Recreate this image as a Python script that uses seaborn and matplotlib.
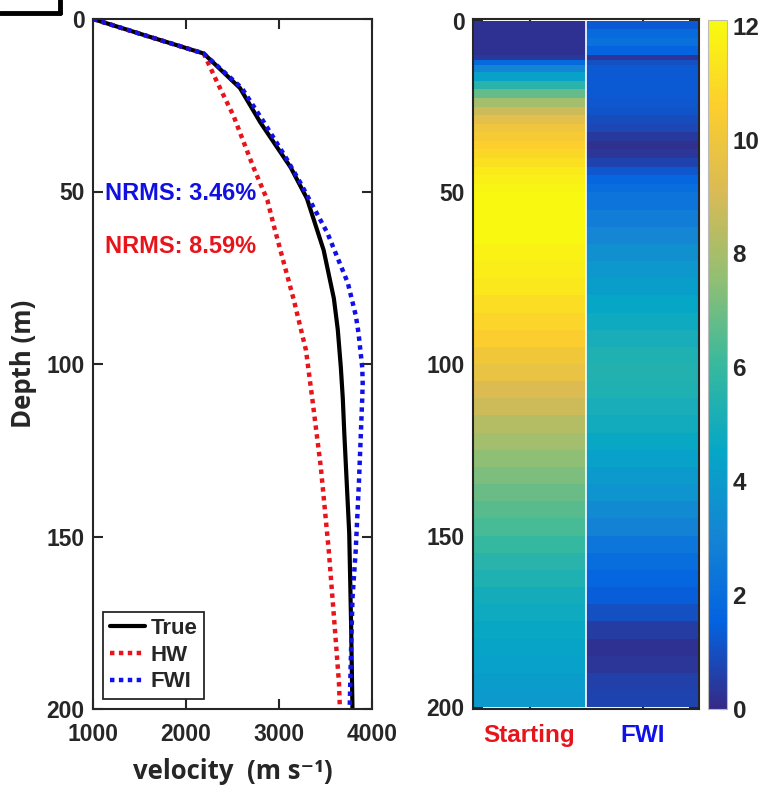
import numpy as np
import pandas as pd
import seaborn as sns
import matplotlib.pyplot as plt
from matplotlib.colors import LinearSegmentedColormap
from matplotlib.lines import Line2D

# ---------- data: velocity profiles ----------
true_depth = [0, 5, 10, 20, 30, 43, 52, 67, 81, 90, 101, 110, 120, 149, 175, 200]
true_vel = [1000, 1590, 2190, 2580, 2800, 3125, 3300, 3480, 3590, 3632, 3665, 3686, 3702, 3755, 3775, 3790]

hw_depth = [0, 5, 10, 18.6, 28, 43, 52.5, 60, 67, 81.5, 96, 110.5, 130, 154, 173, 192.5, 200]
hw_vel = [1000, 1590, 2190, 2340, 2510, 2725, 2875, 2945, 3015, 3160, 3290, 3360, 3450, 3535, 3590, 3645, 3655]

fwi_depth = [0, 5, 10, 20, 30, 40, 47.5, 62, 76.5, 86, 91, 96, 101, 105.5, 110, 134, 154, 168, 188, 200]
fwi_vel = [1000, 1590, 2190, 2600, 2840, 3070, 3230, 3520, 3740, 3826, 3855, 3875, 3895, 3900, 3895,
           3860, 3825, 3790, 3770, 3760]

nrms_fwi = "NRMS: 3.46%"
nrms_hw = "NRMS: 8.59%"

# ---------- data: error bands (%) ----------
band_edges = [0, 2.5, 5, 7.5, 10, 11.5, 13, 15, 17.5, 20, 22.5, 25, 27.5, 30, 32.5, 35, 37.5,
              40, 42.5, 45, 47.5, 50, 55, 60, 65, 70, 75, 80, 85, 90, 95, 100, 105, 110, 115,
              120, 125, 130, 135, 140, 145, 150, 155, 160, 165, 170, 175, 180, 185, 190, 195, 200]
err_starting = [0.2, 0.2, 0.2, 0.2, 0.4, 1.8, 3.0, 4.3, 5.6, 6.8, 7.9, 8.8, 9.5, 10.0, 10.3,
                10.6, 10.9, 11.2, 11.5, 11.7, 11.9,
                12.0, 12.0, 12.0, 11.8, 11.6, 11.4, 11.1, 10.8, 10.5, 10.1, 9.7, 9.2, 8.8, 8.3,
                7.9, 7.5, 7.2, 6.9, 6.6, 6.3, 6.0, 5.6, 5.3, 5.0, 4.8, 4.6, 4.4, 4.3, 4.1, 4.0]
err_fwi = [1.3, 1.9, 2.1, 1.6, 0.3, 1.0, 1.3, 1.3, 1.3, 1.3, 1.2, 1.1, 0.9, 0.8, 0.4,
           0.15, 0.3, 0.7, 1.2, 1.7, 2.0,
           2.3, 2.7, 3.1, 3.5, 3.9, 4.2, 4.5, 4.8, 5.1, 5.3, 5.4, 5.3, 5.1, 4.9,
           4.6, 4.3, 4.0, 3.7, 3.3, 2.9, 2.4, 2.0, 1.7, 1.4, 1.0, 0.5, 0.2, 0.3, 0.6, 0.7]
columns = ["Starting", "FWI"]

# ---------- parula-like colormap ----------
parula_pts = [(0.2081, 0.1663, 0.5292), (0.0117, 0.3875, 0.8820), (0.0793, 0.5200, 0.8312),
              (0.0228, 0.6535, 0.7768), (0.2178, 0.7250, 0.6193), (0.5709, 0.7485, 0.4494),
              (0.8507, 0.7299, 0.3360), (0.9880, 0.8066, 0.1794), (0.9763, 0.9831, 0.0538)]
parula = LinearSegmentedColormap.from_list("parula", parula_pts)

RED = "#e8141c"
BLUE = "#1010e8"

sns.set_style("ticks")
plt.rcParams["font.family"] = ["Liberation Sans", "DejaVu Sans"]
plt.rcParams["font.weight"] = "bold"
plt.rcParams["axes.edgecolor"] = "#262626"
plt.rcParams["axes.linewidth"] = 1.5

W, H = 761, 794
fig = plt.figure(figsize=(W / 100, H / 100), dpi=100)

def box(l, t, r, b):
    return [l / W, 1 - b / H, (r - l) / W, (b - t) / H]

ax1 = fig.add_axes(box(93, 19, 372, 709))
ax2 = fig.add_axes(box(473, 19, 699, 709))
cax = fig.add_axes(box(708, 20, 727, 709))

# ---------- left: velocity profiles ----------
df_true = pd.DataFrame({"v": true_vel, "d": true_depth})
df_hw = pd.DataFrame({"v": hw_vel, "d": hw_depth})
df_fwi = pd.DataFrame({"v": fwi_vel, "d": fwi_depth})

sns.lineplot(data=df_true, x="v", y="d", sort=False, estimator=None, ax=ax1,
             color="black", lw=3, label="True")
sns.lineplot(data=df_hw, x="v", y="d", sort=False, estimator=None, ax=ax1,
             color=RED, lw=3.2, ls=(0, (1, 1)), label="HW")
sns.lineplot(data=df_fwi, x="v", y="d", sort=False, estimator=None, ax=ax1,
             color=BLUE, lw=3.2, ls=(0, (1, 1)), label="FWI")

ax1.set_xlim(1000, 4000)
ax1.set_ylim(200, 0)
ax1.set_xticks([1000, 2000, 3000, 4000])
ax1.set_yticks([0, 50, 100, 150, 200])
ax1.tick_params(direction="in", top=True, right=True, labelsize=16.5, length=7, width=1.5, pad=6)
ax1.tick_params(axis="x", pad=10)
ax1.set_xlabel("velocity  (m s\u207b\u00b9)", fontsize=18.5, fontweight="bold",
               family=["Open Sans", "DejaVu Sans"], labelpad=9)
ax1.set_ylabel("Depth (m)", fontsize=18.5, fontweight="bold",
               family=["Open Sans", "DejaVu Sans"], labelpad=7)

ax1.text(1130, 50.5, nrms_fwi, color="#1010e0", fontsize=17, fontweight="bold", va="center")
ax1.text(1130, 66, nrms_hw, color=RED, fontsize=17, fontweight="bold", va="center")

leg = ax1.legend(loc="lower left", fontsize=16, handlelength=1.6, handletextpad=0.25,
                 borderaxespad=0.45, labelspacing=0.25, fancybox=False, framealpha=1,
                 borderpad=0.3)
leg.get_frame().set_edgecolor("#262626")
leg.get_frame().set_linewidth(1.3)

# ---------- right: error bands ----------
grid = np.column_stack([err_starting, err_fwi])
mesh = ax2.pcolormesh([0, 1, 2], band_edges, grid, cmap=parula, vmin=0, vmax=12.1)
ax2.axvline(1, color="white", lw=1.2)
ax2.set_xlim(0, 2)
ax2.set_ylim(200.5, -0.5)
ax2.set_xticks([0.5, 1.5])
ax2.set_xticklabels(columns)
for lab, c in zip(ax2.get_xticklabels(), [RED, BLUE]):
    lab.set_color(c)
ax2.set_yticks([0, 50, 100, 150, 200])
ax2.tick_params(direction="in", top=True, right=True, labelsize=16.5, length=7, width=1.5, pad=6)
ax2.tick_params(axis="x", labelsize=17.5, pad=11)

cb = fig.colorbar(mesh, cax=cax)
cb.set_ticks([0, 2, 4, 6, 8, 10, 12])
cb.outline.set_edgecolor("#bbbbbb")
cb.outline.set_linewidth(0.8)
cax.tick_params(direction="in", labelsize=17.5, length=5, width=0.8, color="#555555", pad=4)

# ---------- panel corner mark ----------
fig.add_artist(Line2D([0, 60 / W], [1 - 13 / H, 1 - 13 / H], color="black", lw=3.5))
fig.add_artist(Line2D([60 / W, 60 / W], [1, 1 - 13 / H], color="black", lw=3.5))

fig.savefig("out.png", dpi=100)
